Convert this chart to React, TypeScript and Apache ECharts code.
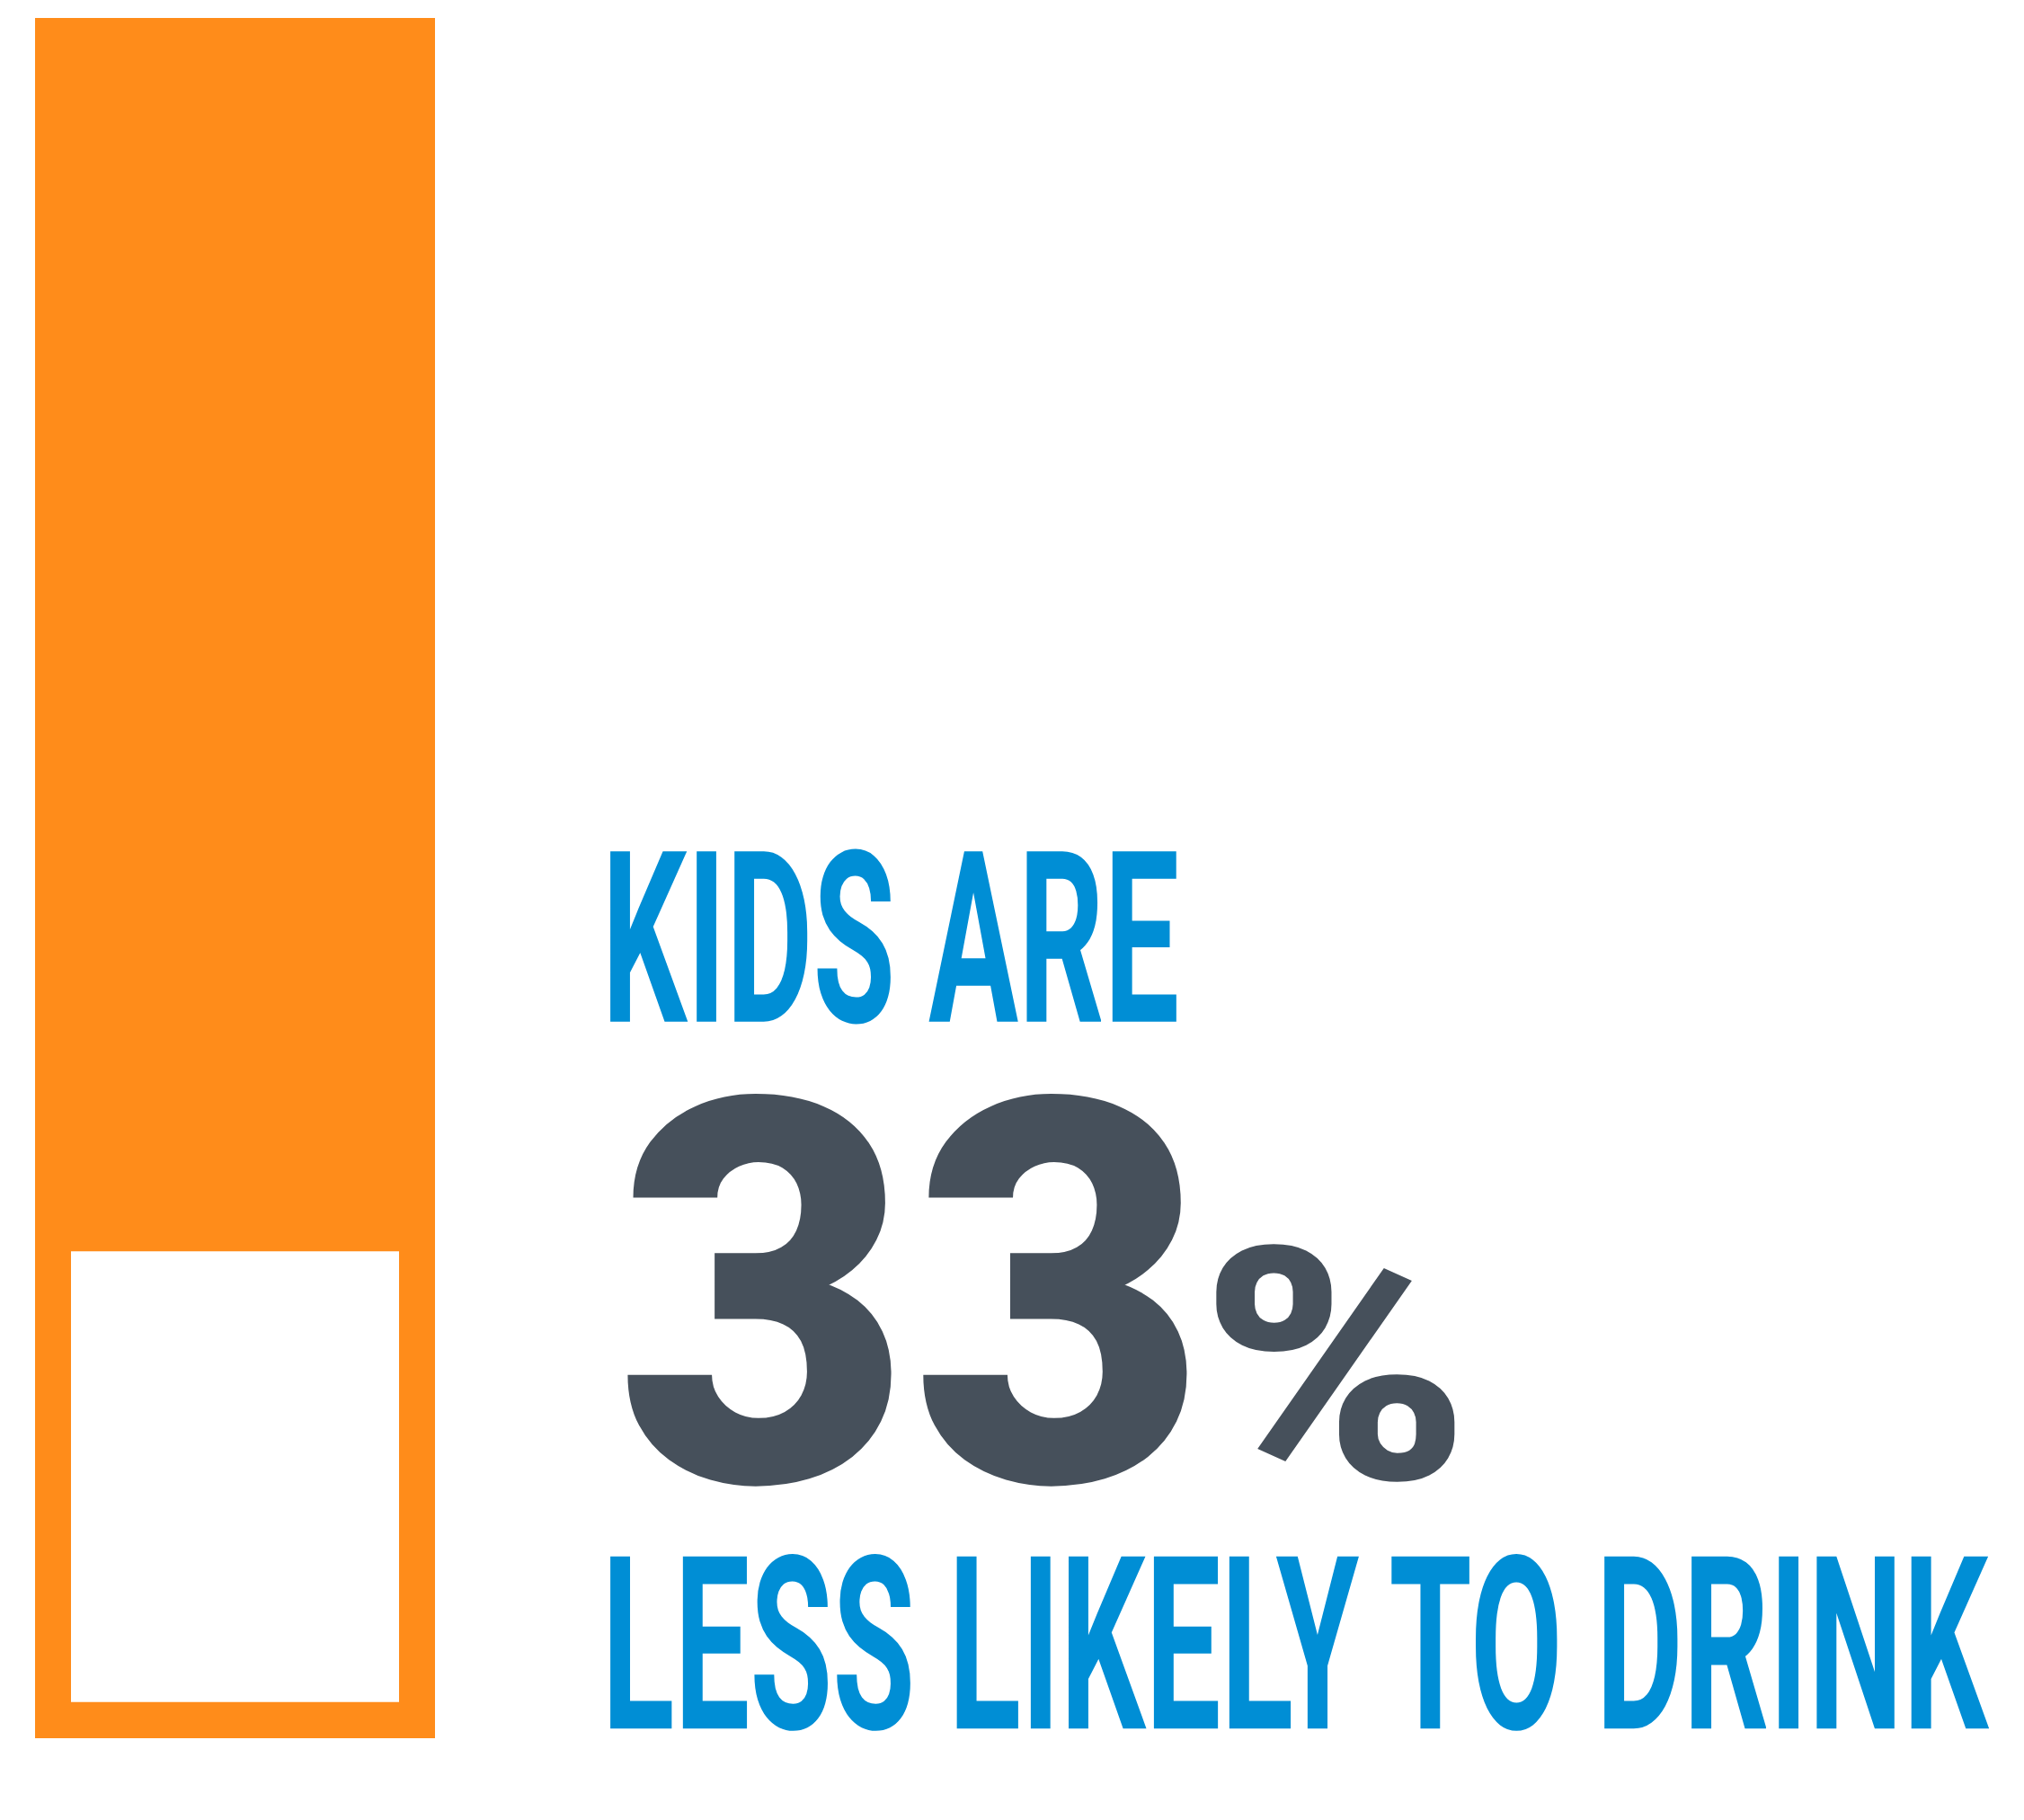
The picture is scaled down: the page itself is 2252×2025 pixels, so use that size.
import React, { useEffect, useRef } from "react";
import * as echarts from "echarts";

// ---- data ----
const categories = ["Kids"];
const fullBar = [100];
const whiteBase = [2.1];
const whiteShare = [26.2];
const headline = "KIDS ARE";
const bigValue = "33";
const bigUnit = "%";
const footline = "LESS LIKELY TO DRINK";

const W = 2252;
const H = 2025;
const ORANGE = "#FF8C1A";
const BLUE = "#008ED5";
const SLATE = "#46505B";

function fit(
  text: string,
  weight: string,
  family: string,
  box: [number, number, number, number],
  fill: string
) {
  const [l, t, r, b] = box;
  const c = document.createElement("canvas").getContext("2d")!;
  const base = 200;
  c.font = `${weight} ${base}px ${family}`;
  c.textBaseline = "middle";
  const m = c.measureText(text);
  const inkH = m.actualBoundingBoxAscent + m.actualBoundingBoxDescent;
  const fs = (base * (b - t)) / inkH;
  c.font = `${weight} ${fs}px ${family}`;
  const m2 = c.measureText(text);
  const inkW = m2.actualBoundingBoxLeft + m2.actualBoundingBoxRight;
  const sx = (r - l) / inkW;
  return {
    type: "text",
    x: l + m2.actualBoundingBoxLeft * sx,
    y: t + m2.actualBoundingBoxAscent - 0.098 * fs,
    scaleX: sx,
    silent: true,
    style: {
      text,
      fill,
      fontSize: fs,
      fontFamily: family,
      fontWeight: weight,
      align: "left",
      verticalAlign: "middle",
      textAlign: "left",
      textVerticalAlign: "middle",
    },
  };
}

export default function App() {
  const ref = useRef<HTMLDivElement>(null);
  useEffect(() => {
    document.body.style.margin = "0";
    document.body.style.overflow = "hidden";
    const chart = echarts.init(ref.current!, undefined, { renderer: "svg" });
    chart.setOption({
      animation: false,
      backgroundColor: "#ffffff",
      grid: { left: 39, right: W - 484, top: 20, bottom: H - 1934 },
      xAxis: [
        { type: "category", data: categories, show: false },
        { type: "category", data: categories, show: false },
      ],
      yAxis: { type: "value", min: 0, max: 100, show: false },
      series: [
        {
          type: "bar",
          xAxisIndex: 0,
          data: fullBar,
          barWidth: 445,
          itemStyle: { color: ORANGE },
          silent: true,
        },
        {
          type: "bar",
          xAxisIndex: 1,
          stack: "w",
          data: whiteBase,
          barWidth: 365,
          itemStyle: { color: "transparent" },
          silent: true,
        },
        {
          type: "bar",
          xAxisIndex: 1,
          stack: "w",
          data: whiteShare,
          barWidth: 365,
          itemStyle: { color: "#ffffff" },
          silent: true,
        },
      ],
      graphic: [
        fit(headline, "bold", "Roboto", [679, 943, 1310, 1139], BLUE),
        fit(bigValue, "900", "Roboto", [694, 1213, 1324, 1652], SLATE),
        fit(bigUnit, "900", "Roboto", [1348, 1382, 1620, 1648], SLATE),
        fit(footline, "bold", "Roboto", [679, 1727, 2219, 1925], BLUE),
      ],
    });
    return () => chart.dispose();
  }, []);
  return <div ref={ref} style={{ width: W, height: H }} />;
}
